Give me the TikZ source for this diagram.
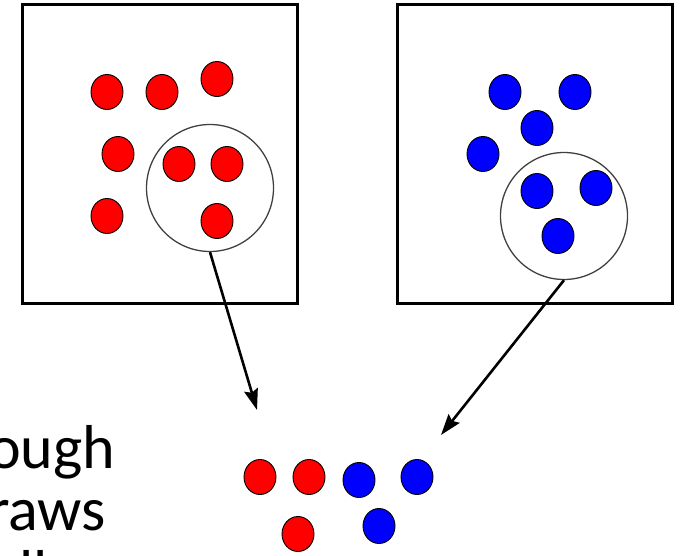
\documentclass[tikz,border=0pt]{standalone}
\usepackage{fontspec}
\setmainfont{Carlito}
\usetikzlibrary{shapes.geometric,arrows.meta}
\tikzset{
  frame/.style={draw=black,line width=3pt,minimum width=275pt,minimum height=298pt,inner sep=0pt},
  dot/.style={ellipse,draw=black,line width=0.9pt,minimum width=32pt,minimum height=35pt,inner sep=0pt},
  reddot/.style={dot,fill=red},
  bluedot/.style={dot,fill=blue},
  pick/.style={circle,draw=black!75,line width=1.3pt,minimum size=127pt,inner sep=0pt},
  link/.style={line width=2.6pt,-{Stealth[length=21pt,width=14pt,inset=3pt]}},
  bigtext/.style={anchor=base west,inner sep=0pt,font=\fontsize{62}{62}\selectfont}
}
\begin{document}
\begin{tikzpicture}[x=1pt,y=-1pt]
\useasboundingbox (0,0) rectangle (682,556);
\clip (0,0) rectangle (682,556);
% frames
\node[frame] (lbox) at (159.5,154) {};
\node[frame] (rbox) at (534.5,154) {};
% selection circles
\node[pick] (lsel) at (210,188) {};
\node[pick] (rsel) at (564,216) {};
% red dots
\node[reddot] (r1) at (107,92) {};
\node[reddot] (r2) at (162,92) {};
\node[reddot] (r3) at (217,79) {};
\node[reddot] (r4) at (118,154) {};
\node[reddot] (r5) at (179,164) {};
\node[reddot] (r6) at (227,164) {};
\node[reddot] (r7) at (107,216) {};
\node[reddot] (r8) at (217,221) {};
% blue dots
\node[bluedot] (b1) at (505,92) {};
\node[bluedot] (b2) at (575,92) {};
\node[bluedot] (b3) at (537,128) {};
\node[bluedot] (b4) at (483,154) {};
\node[bluedot] (b5) at (537,191) {};
\node[bluedot] (b6) at (596,188) {};
\node[bluedot] (b7) at (558,236) {};
% sample
\node[reddot] (s1) at (260,477) {};
\node[reddot] (s2) at (309,477) {};
\node[bluedot] (s3) at (359,480) {};
\node[bluedot] (s4) at (417,477) {};
\node[reddot] (s5) at (298,534) {};
\node[bluedot] (s6) at (379,526) {};
% arrows
\coordinate (ltip) at (257,410);
\coordinate (rtip) at (441,435);
\draw[link] (lsel.south) -- (ltip);
\draw[link] (rsel.south) -- (rtip);
% text
\node[bigtext] (t1) at (-12,468) {ough};
\node[bigtext] (t2) at (-12,530) {raws};
\node[bigtext] (t3) at (19,593) {ll};
\end{tikzpicture}
\end{document}
